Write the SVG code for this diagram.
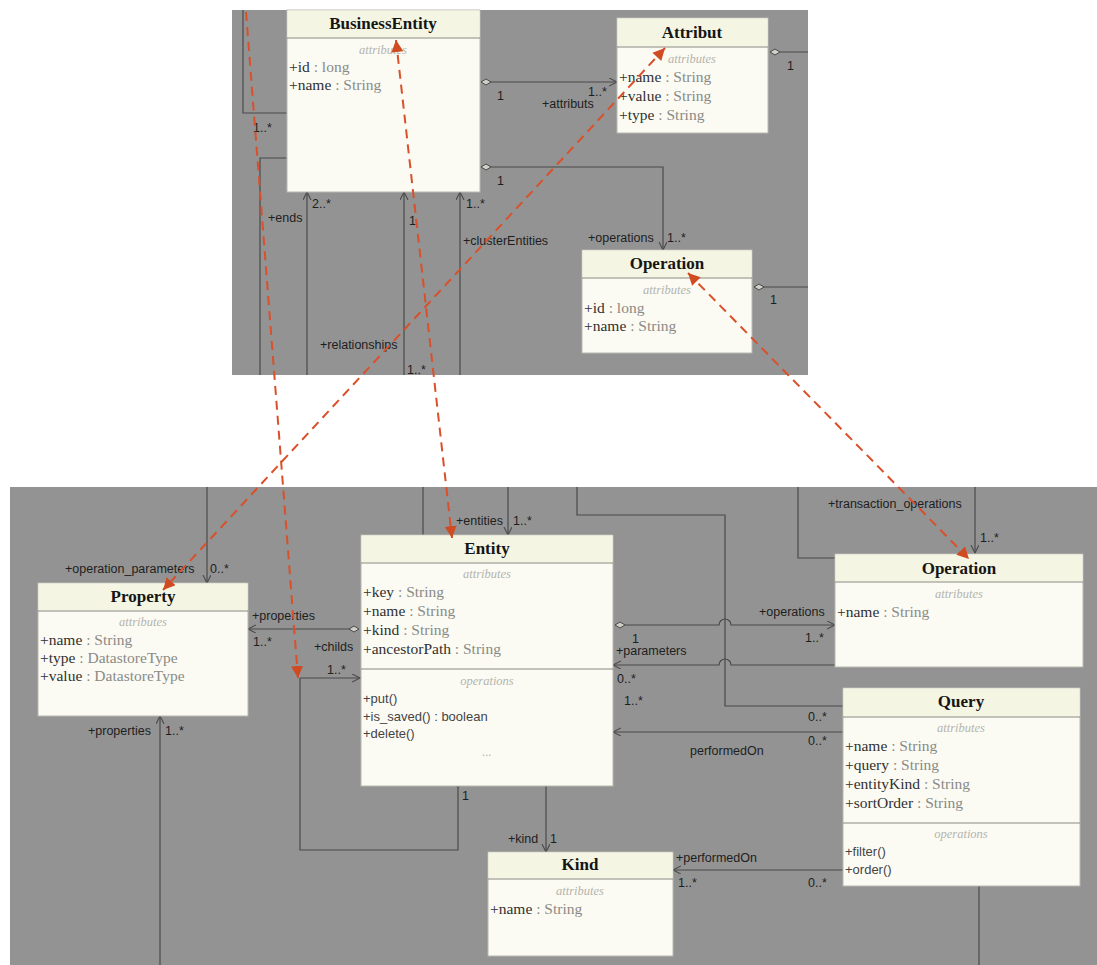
<svg xmlns="http://www.w3.org/2000/svg" width="1097" height="965" viewBox="0 0 1097 965">
<style>
.panel{fill:#939393}
.box{fill:#fbfbf4;stroke:#b8b8b0;stroke-width:1}
.hdr{fill:#f5f5e4}
.div{stroke:#8a8a80;stroke-width:1.2}
.ttl{font-family:"Liberation Serif",serif;font-weight:bold;font-size:17px;fill:#151515;text-anchor:middle}
.ste{font-family:"Liberation Serif",serif;font-style:italic;font-size:12.5px;fill:#b4b4ac;text-anchor:middle}
.att{font-family:"Liberation Serif",serif;font-size:15.5px;fill:#8a8a86}
.att .n{fill:#303030}
.op{font-family:"Liberation Sans",sans-serif;font-size:13px;fill:#444}
.lbl{font-family:"Liberation Sans",sans-serif;font-size:12.5px;fill:#1e1e1e}
.ln{fill:none;stroke:#4a4a4a;stroke-width:1.2}
.red{fill:none;stroke:#d9502a;stroke-width:2;stroke-dasharray:9 6}
</style>
<defs>
<marker id="arr" markerWidth="10" markerHeight="10" refX="8" refY="4" orient="auto" markerUnits="userSpaceOnUse"><path d="M0,0 L8,4 L0,8" fill="none" stroke="#4a4a4a" stroke-width="1.1"/></marker>
<marker id="dia" markerWidth="14" markerHeight="10" refX="1" refY="4" orient="auto" markerUnits="userSpaceOnUse"><path d="M1,4 L6,1 L11,4 L6,7 Z" fill="#cfcfc8" stroke="#4a4a4a" stroke-width="1"/></marker>
<marker id="rarr" markerWidth="16" markerHeight="16" refX="12" refY="6" orient="auto" markerUnits="userSpaceOnUse"><path d="M0,0 L12,6 L0,12 Z" fill="#d04a22"/></marker>
<marker id="rarrs" markerWidth="16" markerHeight="16" refX="0" refY="6" orient="auto" markerUnits="userSpaceOnUse"><path d="M12,0 L0,6 L12,12 Z" fill="#d04a22"/></marker>
</defs>
<rect x="0" y="0" width="1097" height="965" fill="#ffffff"/>
<rect class="panel" x="232" y="10" width="576" height="365"/>
<rect class="panel" x="10" y="487" width="1087" height="478"/>

<g id="connectors">
<path class="ln" d="M243,10 V113 H287"/>
<path class="ln" d="M260,375 V158 H287"/>
<path class="ln" d="M307,375 V192" marker-end="url(#arr)"/>
<path class="ln" d="M404,375 V192" marker-end="url(#arr)"/>
<path class="ln" d="M460,375 V192" marker-end="url(#arr)"/>
<path class="ln" d="M481,82 H617" marker-start="url(#dia)" marker-end="url(#arr)"/>
<path class="ln" d="M481,167 H663 V250" marker-start="url(#dia)" marker-end="url(#arr)"/>
<path class="ln" d="M770,52 H808" marker-start="url(#dia)"/>
<path class="ln" d="M754,287 H808" marker-start="url(#dia)"/>
<path class="ln" d="M207,487 V583" marker-end="url(#arr)"/>
<path class="ln" d="M359,629 H248" marker-start="url(#dia)" marker-end="url(#arr)"/>
<path class="ln" d="M300,678 H360" marker-end="url(#arr)"/>
<path class="ln" d="M300,678 V850 H458 V788" marker-end="url(#dia)"/>
<path class="ln" d="M160,965 V716" marker-end="url(#arr)"/>
<path class="ln" d="M423,487 V535"/>
<path class="ln" d="M508,487 V535" marker-end="url(#arr)"/>
<path class="ln" d="M577,487 V515 H725 V706 H843"/>
<path class="ln" d="M798,487 V558 H835"/>
<path class="ln" d="M975,487 V553" marker-end="url(#arr)"/>
<path class="ln" d="M615,625 H719 A6,6 0 0 1 731,625 H835" marker-start="url(#dia)" marker-end="url(#arr)"/>
<path class="ln" d="M835,665 H731 A6,6 0 0 0 719,665 H613" marker-end="url(#arr)"/>
<path class="ln" d="M843,732 H613" marker-end="url(#arr)"/>
<path class="ln" d="M546,786 V852" marker-end="url(#arr)"/>
<path class="ln" d="M843,870 H673" marker-end="url(#arr)"/>
<path class="ln" d="M979,886 V965"/>
</g>

<g id="connector-labels">
<text class="lbl" x="253" y="132">1..*</text>
<text class="lbl" x="268" y="222">+ends</text>
<text class="lbl" x="312" y="208">2..*</text>
<text class="lbl" x="409" y="225">1</text>
<text class="lbl" x="466" y="208">1..*</text>
<text class="lbl" x="463" y="245">+clusterEntities</text>
<text class="lbl" x="320" y="349">+relationships</text>
<text class="lbl" x="407" y="374">1..*</text>
<text class="lbl" x="497" y="100">1</text>
<text class="lbl" x="588" y="96">1..*</text>
<text class="lbl" x="542" y="108">+attributs</text>
<text class="lbl" x="497" y="185">1</text>
<text class="lbl" x="588" y="242">+operations</text>
<text class="lbl" x="667" y="242">1..*</text>
<text class="lbl" x="787" y="70">1</text>
<text class="lbl" x="770" y="304">1</text>
<text class="lbl" x="65" y="573">+operation_parameters</text>
<text class="lbl" x="210" y="573">0..*</text>
<text class="lbl" x="252" y="620">+properties</text>
<text class="lbl" x="253" y="646">1..*</text>
<text class="lbl" x="314" y="651">+childs</text>
<text class="lbl" x="327" y="674">1..*</text>
<text class="lbl" x="462" y="800">1</text>
<text class="lbl" x="88" y="735">+properties</text>
<text class="lbl" x="165" y="735">1..*</text>
<text class="lbl" x="456" y="525">+entities</text>
<text class="lbl" x="513" y="525">1..*</text>
<text class="lbl" x="828" y="508">+transaction_operations</text>
<text class="lbl" x="980" y="542">1..*</text>
<text class="lbl" x="759" y="616">+operations</text>
<text class="lbl" x="632" y="643">1</text>
<text class="lbl" x="805" y="642">1..*</text>
<text class="lbl" x="616" y="655">+parameters</text>
<text class="lbl" x="617" y="683">0..*</text>
<text class="lbl" x="624" y="705">1..*</text>
<text class="lbl" x="808" y="721">0..*</text>
<text class="lbl" x="808" y="745">0..*</text>
<text class="lbl" x="690" y="755">performedOn</text>
<text class="lbl" x="508" y="843">+kind</text>
<text class="lbl" x="550" y="843">1</text>
<text class="lbl" x="676" y="862">+performedOn</text>
<text class="lbl" x="678" y="887">1..*</text>
<text class="lbl" x="808" y="887">0..*</text>
</g>

<g id="BusinessEntity">
<rect class="box" x="287" y="10" width="193" height="182"/>
<rect class="hdr" x="287.5" y="10.5" width="192" height="27"/>
<line class="div" x1="287" y1="38" x2="480" y2="38"/>
<text class="ttl" x="383" y="29">BusinessEntity</text>
<text class="ste" x="383" y="54">attributes</text>
<text class="att" x="289" y="72"><tspan class="n">+id</tspan> : long</text>
<text class="att" x="289" y="90"><tspan class="n">+name</tspan> : String</text>
</g>

<g id="Attribut">
<rect class="box" x="617" y="18" width="151" height="115"/>
<rect class="hdr" x="617.5" y="18.5" width="150" height="28"/>
<line class="div" x1="617" y1="47" x2="768" y2="47"/>
<text class="ttl" x="692" y="38">Attribut</text>
<text class="ste" x="692" y="63">attributes</text>
<text class="att" x="619" y="82"><tspan class="n">+name</tspan> : String</text>
<text class="att" x="619" y="101"><tspan class="n">+value</tspan> : String</text>
<text class="att" x="619" y="120"><tspan class="n">+type</tspan> : String</text>
</g>

<g id="OperationTop">
<rect class="box" x="582" y="250" width="170" height="103"/>
<rect class="hdr" x="582.5" y="250.5" width="169" height="27"/>
<line class="div" x1="582" y1="278" x2="752" y2="278"/>
<text class="ttl" x="667" y="269">Operation</text>
<text class="ste" x="667" y="294">attributes</text>
<text class="att" x="584" y="313"><tspan class="n">+id</tspan> : long</text>
<text class="att" x="584" y="331"><tspan class="n">+name</tspan> : String</text>
</g>

<g id="Property">
<rect class="box" x="38" y="583" width="210" height="133"/>
<rect class="hdr" x="38.5" y="583.5" width="209" height="27"/>
<line class="div" x1="38" y1="611" x2="248" y2="611"/>
<text class="ttl" x="143" y="602">Property</text>
<text class="ste" x="143" y="626">attributes</text>
<text class="att" x="40" y="645"><tspan class="n">+name</tspan> : String</text>
<text class="att" x="40" y="663"><tspan class="n">+type</tspan> : DatastoreType</text>
<text class="att" x="40" y="681"><tspan class="n">+value</tspan> : DatastoreType</text>
</g>

<g id="Entity">
<rect class="box" x="361" y="535" width="252" height="251"/>
<rect class="hdr" x="361.5" y="535.5" width="251" height="27"/>
<line class="div" x1="361" y1="563" x2="613" y2="563"/>
<text class="ttl" x="487" y="554">Entity</text>
<text class="ste" x="487" y="578">attributes</text>
<text class="att" x="363" y="597"><tspan class="n">+key</tspan> : String</text>
<text class="att" x="363" y="616"><tspan class="n">+name</tspan> : String</text>
<text class="att" x="363" y="635"><tspan class="n">+kind</tspan> : String</text>
<text class="att" x="363" y="654"><tspan class="n">+ancestorPath</tspan> : String</text>
<line class="div" x1="361" y1="669" x2="613" y2="669"/>
<text class="ste" x="487" y="685">operations</text>
<text class="op" x="363" y="703">+put()</text>
<text class="op" x="363" y="721">+is_saved() : boolean</text>
<text class="op" x="363" y="738" fill="#3a3a5a">+delete()</text>
<text class="ste" x="487" y="756">...</text>
</g>

<g id="OperationBottom">
<rect class="box" x="835" y="554" width="248" height="113"/>
<rect class="hdr" x="835.5" y="554.5" width="247" height="27"/>
<line class="div" x1="835" y1="582" x2="1083" y2="582"/>
<text class="ttl" x="959" y="574">Operation</text>
<text class="ste" x="959" y="598">attributes</text>
<text class="att" x="837" y="617"><tspan class="n">+name</tspan> : String</text>
</g>

<g id="Query">
<rect class="box" x="843" y="688" width="237" height="198"/>
<rect class="hdr" x="843.5" y="688.5" width="236" height="28"/>
<line class="div" x1="843" y1="717" x2="1080" y2="717"/>
<text class="ttl" x="961" y="707">Query</text>
<text class="ste" x="961" y="732">attributes</text>
<text class="att" x="845" y="751"><tspan class="n">+name</tspan> : String</text>
<text class="att" x="845" y="770"><tspan class="n">+query</tspan> : String</text>
<text class="att" x="845" y="789"><tspan class="n">+entityKind</tspan> : String</text>
<text class="att" x="845" y="808"><tspan class="n">+sortOrder</tspan> : String</text>
<line class="div" x1="843" y1="823" x2="1080" y2="823"/>
<text class="ste" x="961" y="838">operations</text>
<text class="op" x="845" y="856">+filter()</text>
<text class="op" x="845" y="874">+order()</text>
</g>

<g id="Kind">
<rect class="box" x="488" y="852" width="185" height="104"/>
<rect class="hdr" x="488.5" y="852.5" width="184" height="26"/>
<line class="div" x1="488" y1="879" x2="673" y2="879"/>
<text class="ttl" x="580" y="870">Kind</text>
<text class="ste" x="580" y="895">attributes</text>
<text class="att" x="490" y="914"><tspan class="n">+name</tspan> : String</text>
</g>

<g id="trace-links">
<path class="red" d="M246,12 L298,678" marker-end="url(#rarr)"/>
<path class="red" d="M396,40 L452,538" marker-start="url(#rarrs)" marker-end="url(#rarr)"/>
<path class="red" d="M665,48 L163,590" marker-start="url(#rarrs)" marker-end="url(#rarr)"/>
<path class="red" d="M688,273 L969,559" marker-start="url(#rarrs)" marker-end="url(#rarr)"/>
</g>
</svg>
